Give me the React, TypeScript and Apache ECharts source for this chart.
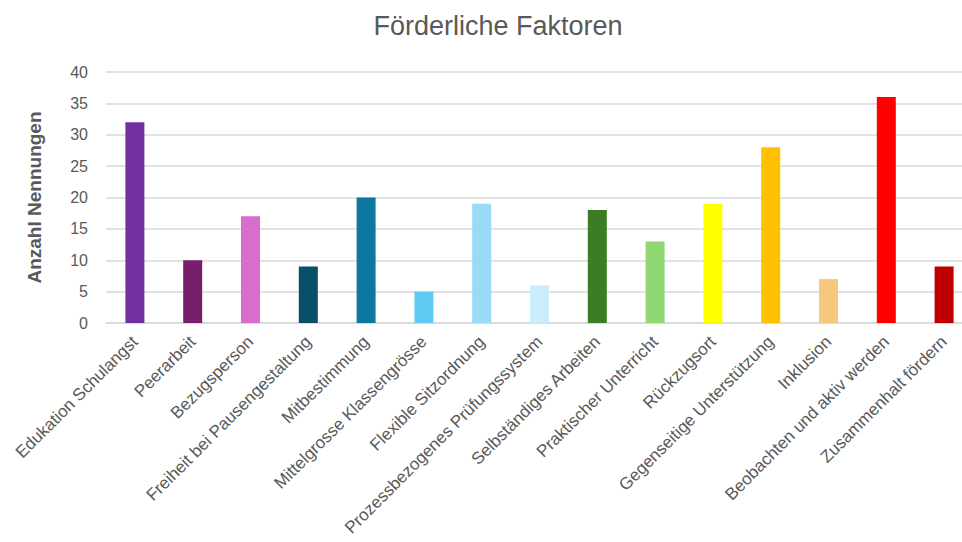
import React, { useEffect, useRef } from "react";
import * as echarts from "echarts";

const categories = [
  "Edukation Schulangst",
  "Peerarbeit",
  "Bezugsperson",
  "Freiheit bei Pausengestaltung",
  "Mitbestimmung",
  "Mittelgrosse Klassengrösse",
  "Flexible Sitzordnung",
  "Prozessbezogenes Prüfungssystem",
  "Selbständiges Arbeiten",
  "Praktischer Unterricht",
  "Rückzugsort",
  "Gegenseitige Unterstützung",
  "Inklusion",
  "Beobachten und aktiv werden",
  "Zusammenhalt fördern",
];
const values = [32, 10, 17, 9, 20, 5, 19, 6, 18, 13, 19, 28, 7, 36, 9];
const colors = [
  "#7030A0", "#781F6B", "#D86ECC", "#0A4F6A", "#0C78A0",
  "#61CBF3", "#98DBF7", "#CBEDFB", "#3B7D23", "#8FD873",
  "#FFFF00", "#FFC000", "#F6C87E", "#FF0000", "#C00000",
];

export default function App() {
  const ref = useRef<HTMLDivElement>(null);
  useEffect(() => {
    if (!ref.current) return;
    const chart = echarts.init(ref.current, undefined, { renderer: "svg" });
    chart.setOption({
      animation: false,
      title: {
        text: "Förderliche Faktoren",
        left: 493,
        textAlign: "center",
        top: 7,
        textStyle: {
          fontFamily: "Liberation Sans, Arial, sans-serif",
          fontSize: 27,
          fontWeight: "normal",
          color: "#595959",
        },
      },
      grid: {
        left: 106,
        top: 72,
        width: 867,
        height: 251,
        containLabel: false,
        outerBoundsMode: "none",
      },
      xAxis: {
        type: "category",
        data: categories,
        axisLine: { lineStyle: { color: "#D9D9D9", width: 1.5 } },
        axisTick: { show: false },
        axisLabel: {
          rotate: 45,
          interval: 0,
          margin: 16,
          color: "#595959",
          fontSize: 17,
          fontFamily: "Liberation Sans, Arial, sans-serif",
        },
      },
      yAxis: {
        type: "value",
        min: 0,
        max: 40,
        interval: 5,
        name: "Anzahl Nennungen",
        nameLocation: "middle",
        nameGap: 62,
        nameTextStyle: {
          color: "#595959",
          fontSize: 19,
          fontWeight: "bold",
          fontFamily: "Liberation Sans, Arial, sans-serif",
        },
        axisLine: { show: false },
        axisTick: { show: false },
        axisLabel: {
          color: "#595959",
          fontSize: 16,
          margin: 18,
          fontFamily: "Liberation Sans, Arial, sans-serif",
        },
        splitLine: { lineStyle: { color: "#D9D9D9", width: 1.5 } },
      },
      series: [
        {
          type: "bar",
          barWidth: 19,
          data: values.map((v, i) => ({ value: v, itemStyle: { color: colors[i] } })),
        },
      ],
    });
    return () => chart.dispose();
  }, []);
  return <div ref={ref} style={{ width: 962, height: 542, position: "absolute", left: 0, top: 0 }} />;
}
